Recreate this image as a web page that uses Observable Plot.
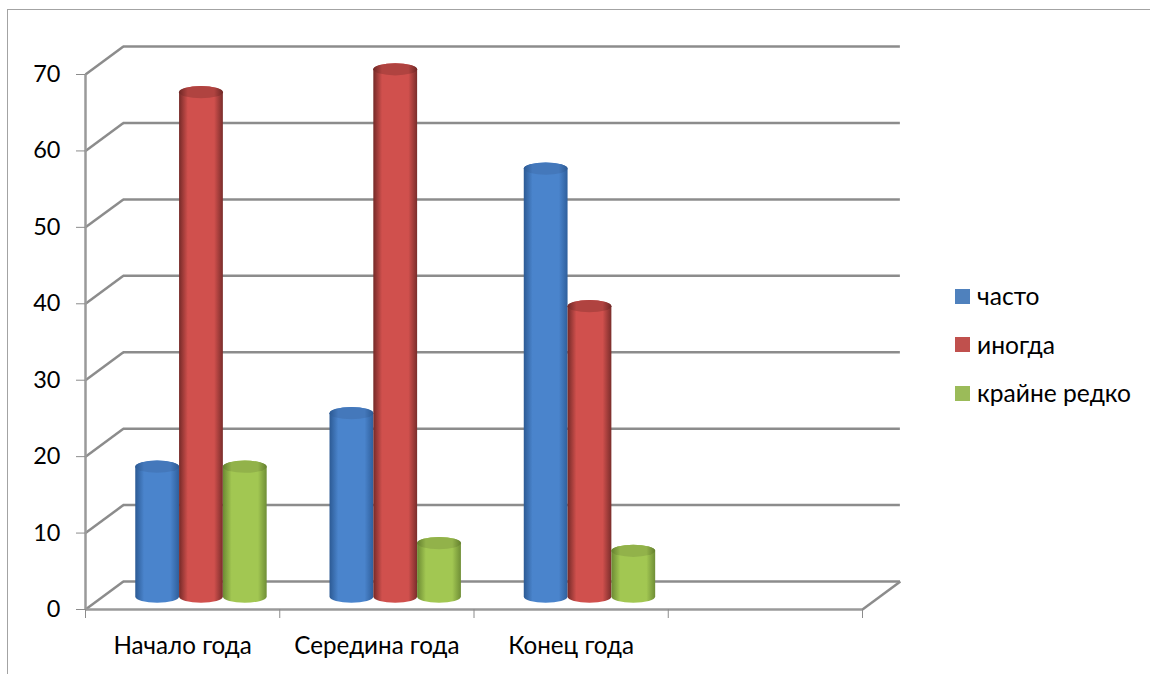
<!DOCTYPE html>
<html><head><meta charset="utf-8">
<script src="https://cdn.jsdelivr.net/npm/d3@7"></script>
<script src="https://cdn.jsdelivr.net/npm/@observablehq/plot@0.6"></script>
<style>
html,body{margin:0;padding:0;background:#fff}
#wrap{position:relative;width:1150px;height:674px;overflow:hidden;font-family:Lato,"Noto Sans",sans-serif}
#frame{position:absolute;left:7px;top:9px;width:1200px;height:800px;border-left:1.5px solid #a3a3a3;border-top:1.5px solid #a3a3a3}
#legend{position:absolute;left:955px;top:272px;font-size:24.6px;line-height:48.5px;color:#000}
#legend div{display:flex;align-items:center;white-space:nowrap}
#legend i{display:inline-block;width:15px;height:15px;margin-right:7px}
svg{position:absolute;left:0;top:0;overflow:visible}
</style></head><body>
<div id="wrap"><div id="frame"></div><div id="legend"></div></div>
<script>
const categories = ["Начало года", "Середина года", "Конец года"];
const seriesNames = ["часто", "иногда", "крайне редко"];
const chasto = [17, 24, 56];
const inogda = [66, 69, 38];
const redko = [17, 7, 6];
const yTicks = [0, 10, 20, 30, 40, 50, 60, 70];
const xTicks = [0, 1, 2, 3, 4];
const legendColors = ["#4f81bd", "#c0504d", "#9bbb59"];

// pseudo-3D projection expressed in data units
const depthX = 0.195, depthY = 3.66;
const barW = 0.2255, barShiftX = 0.097, barShiftY = 1.62, capH = 0.8;
const gray = "#8c8c8c";

const rows = s => s.map((v, i) => ({ i, v }));
const bars = (vals, k) => {
  const x1 = d => d.i + 0.5 + barShiftX + (k - 1.5) * barW;
  const x2 = d => x1(d) + barW;
  return [
    Plot.rect(rows(vals), { x1, x2, y1: barShiftY - capH, y2: d => d.v + barShiftY + capH,
      fill: `url(#g${k})`, rx: barW * 97, ry: 6.2 }),
    Plot.rect(rows(vals), { x1, x2, y1: d => d.v + barShiftY - capH, y2: d => d.v + barShiftY + capH,
      fill: `url(#t${k})`, rx: barW * 97, ry: 6.2 })
  ];
};

const chart = Plot.plot({
  width: 1150, height: 674,
  marginLeft: 85, marginRight: 288, marginTop: 74, marginBottom: 65,
  style: { fontFamily: 'Lato,"Noto Sans",sans-serif', fontSize: "24px", color: "#000", background: "transparent" },
  x: { domain: [0, 4], axis: null },
  y: { domain: [0, 70], axis: null },
  marks: [
    Plot.ruleY(yTicks, { y: d => d + depthY, x1: depthX, x2: 4 + depthX, stroke: gray, strokeWidth: 2.5 }),
    Plot.link(yTicks, { x1: 0, x2: depthX, y1: d => d, y2: d => d + depthY, stroke: gray, strokeWidth: 2.5 }),
    Plot.link([0], { x1: 4, x2: 4 + depthX, y1: 0, y2: depthY, stroke: gray, strokeWidth: 2.5 }),
    Plot.ruleX([0], { y1: 0, y2: 70, stroke: "#9a9a9a", strokeWidth: 2.5 }),
    Plot.ruleY([0], { x1: 0, x2: 4, stroke: "#9a9a9a", strokeWidth: 2.5 }),
    Plot.axisY({ ticks: yTicks, tickSize: 9, tickPadding: 16, stroke: gray, fill: "#000", label: null, fontSize: 23.5 }),
    Plot.axisX({ ticks: xTicks, tickSize: 9, stroke: gray, tickFormat: () => "", label: null }),
    Plot.axisX({ ticks: categories.map((_, i) => i + 0.5), tickSize: 0, tickPadding: 27, fill: "#000", label: null, fontSize: 24.2,
      tickFormat: d => categories[Math.floor(d)] }),
    ...bars(chasto, 0), ...bars(inogda, 1), ...bars(redko, 2)
  ]
});

const stops = [["#2c5a94", "#4a84cc", "#2f5f9c"], ["#752a28", "#d0504d", "#7a2d2b"], ["#6c8a33", "#a2c752", "#6f8e36"]];
const caps = [["#2c5a94", "#4478bb", "#2c5a94"], ["#702826", "#b04340", "#702826"], ["#64802e", "#92b24a", "#64802e"]];
const defs = d3.select(chart).insert("defs", ":first-child");
const grad = (id, c) => {
  const g = defs.append("linearGradient").attr("id", id);
  [[0, c[0]], [0.2, c[1]], [0.8, c[1]], [1, c[2]]].forEach(([o, col]) =>
    g.append("stop").attr("offset", o).attr("stop-color", col));
};
stops.forEach((c, k) => grad("g" + k, c));
caps.forEach((c, k) => grad("t" + k, c));
document.getElementById("wrap").appendChild(chart);

seriesNames.forEach((n, k) => {
  const d = d3.select("#legend").append("div");
  d.append("i").style("background", legendColors[k]);
  d.append("span").text(n);
});
document.getElementById("wrap").appendChild(document.getElementById("legend"));
</script>
</body></html>
